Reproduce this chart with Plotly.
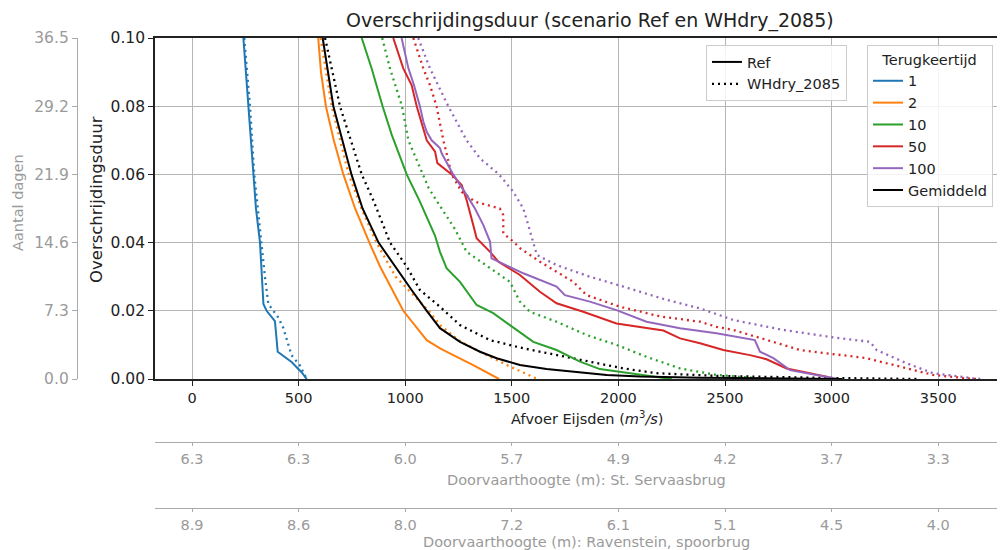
import plotly.graph_objects as go

# ---------------- data ----------------
labels_T = ['1', '2', '10', '50', '100', 'Gemiddeld']

# Ref scenario (solid lines): discharge (m3/s) vs exceedance fraction
q_ref_1 = [241, 264, 285, 300, 319, 327, 335, 350, 389, 402, 467, 514, 538]
p_ref_1 = [0.100, 0.080, 0.060, 0.050, 0.040, 0.030, 0.022, 0.020, 0.017, 0.008, 0.005, 0.002, 0.000]

q_ref_2 = [592, 605, 628, 665, 710, 765, 832, 882, 991, 1101, 1163, 1272, 1319, 1440]
p_ref_2 = [0.100, 0.090, 0.080, 0.070, 0.060, 0.050, 0.040, 0.033, 0.020, 0.0114, 0.009, 0.0056, 0.0041, 0.000]

q_ref_10 = [796, 843, 894, 937, 1007, 1069, 1140, 1163, 1194, 1257, 1335, 1413, 1491, 1601, 1710, 1820, 1913, 2038, 2164, 2250]
p_ref_10 = [0.100, 0.091, 0.080, 0.0716, 0.060, 0.052, 0.042, 0.0373, 0.0325, 0.0285, 0.0217, 0.0193, 0.0158, 0.0109, 0.0085, 0.0051, 0.0029, 0.0017, 0.0007, 0.000]

q_ref_50 = [944, 991, 1030, 1054, 1101, 1140, 1151, 1218, 1265, 1288, 1319, 1335, 1398, 1437, 1538, 1632, 1710, 1835, 1991, 2132, 2211, 2289, 2383, 2492, 2617, 2695, 2789, 2898, 2977, 3010]
p_ref_50 = [0.100, 0.0911, 0.0862, 0.080, 0.070, 0.0667, 0.0633, 0.060, 0.0569, 0.0525, 0.0452, 0.0413, 0.0373, 0.0344, 0.0305, 0.0256, 0.0222, 0.0197, 0.0163, 0.0149, 0.0142, 0.0119, 0.0105, 0.0085, 0.007, 0.0058, 0.0031, 0.0017, 0.0007, 0.000]

q_ref_100 = [983, 1015, 1041, 1069, 1085, 1101, 1124, 1163, 1171, 1225, 1288, 1327, 1366, 1398, 1405, 1476, 1554, 1710, 1749, 1866, 1991, 2132, 2289, 2460, 2640, 2664, 2727, 2805, 2930, 2992, 3030]
p_ref_100 = [0.100, 0.0911, 0.0862, 0.080, 0.0755, 0.0725, 0.070, 0.0677, 0.0662, 0.060, 0.054, 0.050, 0.0452, 0.0403, 0.0354, 0.0334, 0.031, 0.0271, 0.0246, 0.0227, 0.0202, 0.0168, 0.0149, 0.0134, 0.0114, 0.008, 0.0061, 0.0026, 0.0012, 0.0004, 0.000]

q_ref_mean = [613, 663, 748, 800, 875, 985, 1030, 1101, 1163, 1257, 1351, 1429, 1538, 1663, 1820, 1945, 2101, 2383, 3050]
p_ref_mean = [0.100, 0.080, 0.060, 0.050, 0.040, 0.030, 0.0261, 0.020, 0.0149, 0.0109, 0.008, 0.0061, 0.0041, 0.0029, 0.0019, 0.0012, 0.0007, 0.0004, 0.000]

# WHdry_2085 scenario (dotted lines)
q_wh_1 = [245, 272, 292, 324, 342, 358, 405, 428, 452, 467, 506, 538]
p_wh_1 = [0.100, 0.080, 0.060, 0.040, 0.030, 0.022, 0.018, 0.015, 0.010, 0.007, 0.004, 0.000]

q_wh_2 = [603, 655, 735, 795, 865, 955, 1110, 1163, 1250, 1319, 1476, 1620]
p_wh_2 = [0.100, 0.080, 0.060, 0.050, 0.040, 0.030, 0.020, 0.0158, 0.0114, 0.009, 0.0041, 0.000]

q_wh_10 = [892, 929, 985, 1015, 1069, 1110, 1150, 1233, 1288, 1398, 1491, 1538, 1585, 1710, 1851, 1991, 2132, 2289, 2460, 2700]
p_wh_10 = [0.100, 0.091, 0.080, 0.070, 0.062, 0.056, 0.052, 0.044, 0.0373, 0.0325, 0.0285, 0.0227, 0.0197, 0.0168, 0.0129, 0.010, 0.0065, 0.0031, 0.0012, 0.000]

q_wh_50 = [1038, 1085, 1116, 1147, 1179, 1218, 1265, 1327, 1444, 1460, 1460, 1507, 1540, 1632, 1788, 1851, 2007, 2200, 2383, 2460, 2539, 2617, 2852, 3164, 3320, 3476, 3633, 3680]
p_wh_50 = [0.100, 0.0911, 0.0862, 0.080, 0.070, 0.060, 0.0549, 0.052, 0.050, 0.0481, 0.0427, 0.0403, 0.0383, 0.0344, 0.0285, 0.0246, 0.0212, 0.0183, 0.0168, 0.0153, 0.0144, 0.0129, 0.0085, 0.0061, 0.0036, 0.0012, 0.0002, 0.000]

q_wh_100 = [1061, 1116, 1202, 1288, 1351, 1440, 1507, 1554, 1577, 1617, 1710, 1866, 2023, 2226, 2383, 2539, 2773, 3008, 3180, 3211, 3352, 3476, 3664, 3700]
p_wh_100 = [0.100, 0.0911, 0.080, 0.070, 0.0647, 0.060, 0.0549, 0.050, 0.0452, 0.0364, 0.0334, 0.030, 0.0271, 0.0232, 0.0207, 0.0173, 0.0144, 0.0122, 0.0109, 0.0085, 0.0046, 0.0017, 0.0002, 0.000]

q_wh_mean = [624, 694, 796, 850, 929, 1007, 1069, 1163, 1257, 1398, 1554, 1710, 1866, 2023, 2179, 2460, 3000, 3400]
p_wh_mean = [0.100, 0.080, 0.060, 0.0525, 0.040, 0.033, 0.0261, 0.0212, 0.0158, 0.0114, 0.009, 0.007, 0.0051, 0.0031, 0.0017, 0.0009, 0.0003, 0.000]

# axes ticks
x_ticks = [0, 500, 1000, 1500, 2000, 2500, 3000, 3500]
y_ticks = [0.00, 0.02, 0.04, 0.06, 0.08, 0.10]
dagen_ticks = [0.0, 7.3, 14.6, 21.9, 29.2, 36.5]
servaas_labels = ['6.3', '6.3', '6.0', '5.7', '4.9', '4.2', '3.7', '3.3']
ravenstein_labels = ['8.9', '8.6', '8.0', '7.2', '6.1', '5.1', '4.5', '4.0']

# ---------------- style / layout ----------------
colors = ['#1f77b4', '#ff7f0e', '#2ca02c', '#d62728', '#9467bd', '#000000']
FONT = 'DejaVu Sans'
GRAY = '#9a9a9a'
TXT = '#222222'
FS = 14.5
FSY = 15.5

# the page places the figure 8px from the top-left corner of the window
OFF = 8
W, H = 1005 - OFF, 550 - OFF


def px(x):
    return (x - OFF) / W


def py(y):
    return 1 - (y - OFF) / H


ref_curves = [(q_ref_1, p_ref_1), (q_ref_2, p_ref_2), (q_ref_10, p_ref_10),
              (q_ref_50, p_ref_50), (q_ref_100, p_ref_100), (q_ref_mean, p_ref_mean)]
wh_curves = [(q_wh_1, p_wh_1), (q_wh_2, p_wh_2), (q_wh_10, p_wh_10),
             (q_wh_50, p_wh_50), (q_wh_100, p_wh_100), (q_wh_mean, p_wh_mean)]

DOT = '2px,4px'

fig = go.Figure()

for (q, p), c in zip(wh_curves, colors):
    fig.add_trace(go.Scatter(x=q, y=p, mode='lines', showlegend=False,
                             line=dict(color=c, width=2.3, dash=DOT),
                             hoverinfo='skip'))
for (q, p), c, lab in zip(ref_curves, colors, labels_T):
    fig.add_trace(go.Scatter(x=q, y=p, mode='lines', name=lab, legend='legend2',
                             line=dict(color=c, width=2), hoverinfo='skip'))

fig.add_trace(go.Scatter(x=[None], y=[None], mode='lines', name='Ref', legend='legend',
                         line=dict(color='black', width=2)))
fig.add_trace(go.Scatter(x=[None], y=[None], mode='lines', name='WHdry_2085', legend='legend',
                         line=dict(color='black', width=2.3, dash=DOT)))

fig.add_trace(go.Scatter(x=[0], y=[0], yaxis='y2', mode='markers', marker=dict(opacity=0),
                         showlegend=False, hoverinfo='skip'))
fig.add_trace(go.Scatter(x=[0], y=[0], xaxis='x2', mode='markers', marker=dict(opacity=0),
                         showlegend=False, hoverinfo='skip'))
fig.add_trace(go.Scatter(x=[0], y=[0], xaxis='x3', mode='markers', marker=dict(opacity=0),
                         showlegend=False, hoverinfo='skip'))

x_left, x_right = 155, 1005
y_top, y_bot = 38, 379
ppu = (938.2 - 192) / 3500.0
xr0 = -(192 - x_left) / ppu
xr1 = xr0 + (x_right - x_left) / ppu
xdom = [px(x_left), 1.0]
ydom = [py(y_bot), py(y_top)]

grid = dict(showgrid=True, gridcolor='#b5b5b5', gridwidth=1.2)
sec = dict(ticks='outside', ticklen=3, tickcolor='#aaaaaa', showline=True,
           linecolor='#aaaaaa', linewidth=1.3, showgrid=False, zeroline=False,
           automargin=False, tickfont=dict(size=FS, color=GRAY))

fig.update_layout(
    width=W, height=H,
    margin=dict(l=0, r=0, t=0, b=0),
    paper_bgcolor='white', plot_bgcolor='white',
    font=dict(family=FONT, size=FS, color=TXT),
    xaxis=dict(domain=xdom, range=[xr0, xr1], tickvals=x_ticks,
               ticks='outside', ticklen=5, tickwidth=1.2, tickcolor=TXT,
               showline=True, linecolor=TXT, linewidth=1.6, mirror=True,
               zeroline=False, automargin=False, tickfont=dict(size=FS, color=TXT), **grid),
    yaxis=dict(domain=ydom, range=[0, 0.1], tickvals=y_ticks, tickformat='.2f',
               ticks='outside', ticklen=5, tickwidth=1.2, tickcolor=TXT,
               showline=True, linecolor=TXT, linewidth=1.6, mirror=False,
               zeroline=False, automargin=False, tickfont=dict(size=FSY, color=TXT), **grid),
    yaxis2=dict(overlaying='y', anchor='free', position=px(77), side='left',
                range=[0, 36.5], tickvals=dagen_ticks,
                ticktext=['%.1f' % v for v in dagen_ticks],
                ticks='outside', ticklen=5, tickcolor='#aaaaaa',
                showline=True, linecolor='#aaaaaa', linewidth=1.3,
                showgrid=False, zeroline=False, automargin=False,
                tickfont=dict(size=FSY, color=GRAY)),
    xaxis2=dict(overlaying='x', anchor='free', position=py(442), side='bottom',
                range=[xr0, xr1], tickvals=x_ticks, ticktext=servaas_labels, **sec),
    xaxis3=dict(overlaying='x', anchor='free', position=py(508), side='bottom',
                range=[xr0, xr1], tickvals=x_ticks, ticktext=ravenstein_labels, **sec),
    legend=dict(x=px(706), y=py(45), xanchor='left', yanchor='top',
                bgcolor='rgba(255,255,255,0.85)', bordercolor='#cccccc', borderwidth=1,
                font=dict(size=FS, color=TXT), itemwidth=30),
    legend2=dict(x=px(867), y=py(45), xanchor='left', yanchor='top',
                 bgcolor='rgba(255,255,255,0.85)', bordercolor='#cccccc', borderwidth=1,
                 font=dict(size=FS, color=TXT), itemwidth=30,
                 title=dict(text='Terugkeertijd', side='top center', font=dict(size=FS))),
    showlegend=True,
)

ann = [
    dict(text='Overschrijdingsduur (scenario Ref en WHdry_2085)', x=px(590), y=py(20),
         font=dict(size=19, color=TXT)),
    dict(text='Overschrijdingsduur', x=px(96), y=py(200), textangle=-90,
         font=dict(size=16.5, color=TXT)),
    dict(text='Aantal dagen', x=px(18), y=py(203), textangle=-90,
         font=dict(size=FS, color=GRAY)),
    dict(text='Afvoer Eijsden (<i>m</i><sup>3</sup><i>/s</i>)', x=px(587), y=py(418),
         font=dict(size=FS, color=TXT)),
    dict(text='Doorvaarthoogte (m): St. Servaasbrug', x=px(586), y=py(480),
         font=dict(size=FS, color=GRAY)),
    dict(text='Doorvaarthoogte (m): Ravenstein, spoorbrug', x=px(586), y=py(542),
         font=dict(size=FS, color=GRAY)),
]
for a in ann:
    a.update(xref='paper', yref='paper', showarrow=False, xanchor='center', yanchor='middle')
fig.update_layout(annotations=ann)

fig.write_html('out.html')
